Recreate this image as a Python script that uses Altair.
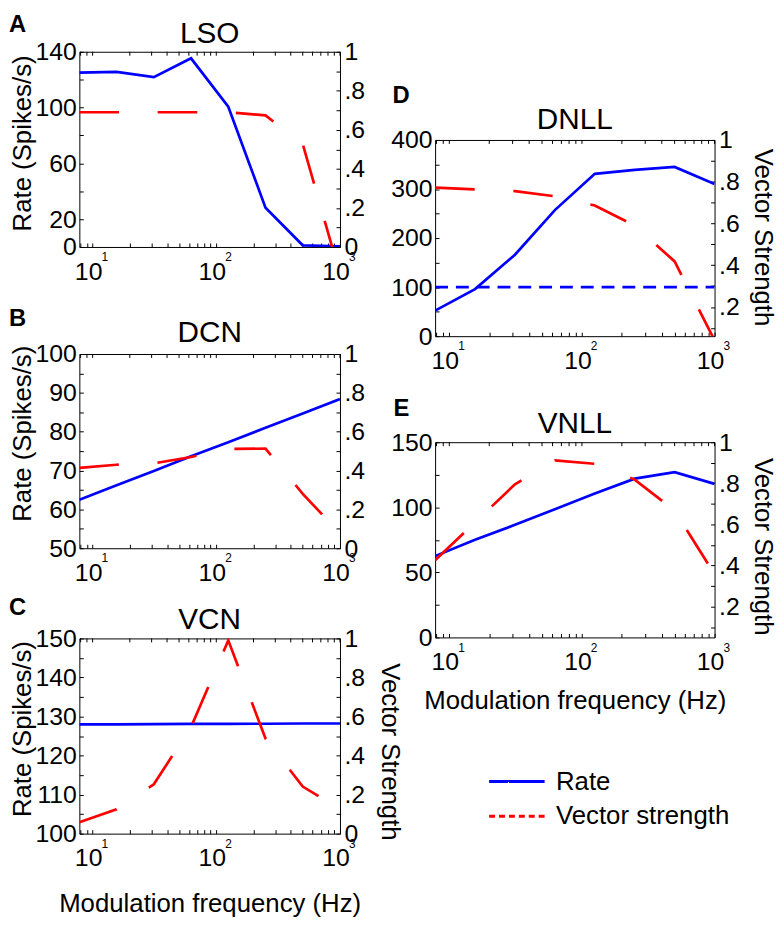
import json
import altair as alt
import pandas as pd

FONT = "Liberation Sans"
BLUE = "#0000ff"
RED = "#ff0000"

# ---------------- data ----------------
freq = [7.8125, 15.625, 31.25, 62.5, 125, 250, 500, 1000]
x_ticks = [8, 9, 10, 20, 30, 40, 50, 60, 70, 80, 90, 100, 200, 300, 400, 500, 600, 700, 800, 900, 1000]
x_decades = [10, 100, 1000]
x_sup = ["1", "2", "3"]
series_names = ["Rate", "Vector strength"]

lso_rate = [125.1, 125.6, 121.8, 135.3, 100.6, 28.2, 1.2, 0.5]
lso_vs = [0.69, 0.69, 0.69, 0.69, 0.69, 0.674, 0.527, -0.14]
lso_rate_ticks = [0, 20, 40, 60, 80, 100, 120, 140]
lso_rate_labels = [0, 20, 60, 100, 140]

dcn_rate = [62.5, 66.2, 69.9, 73.7, 77.3, 81.0, 84.7, 88.4]
dcn_vs = [0.414, 0.43, 0.437, 0.47, 0.511, 0.513, 0.28, 0.077]
dcn_rate_ticks = [50, 55, 60, 65, 70, 75, 80, 85, 90, 95, 100]
dcn_rate_labels = [50, 60, 70, 80, 90, 100]

vcn_rate = [128.0, 128.0, 128.05, 128.1, 128.1, 128.15, 128.2, 128.2]
vcn_vs = [0.058, 0.125, 0.253, 0.546, 0.99, 0.487, 0.241, 0.126]
vcn_rate_ticks = [100, 105, 110, 115, 120, 125, 130, 135, 140, 145, 150]
vcn_rate_labels = [100, 110, 120, 130, 140, 150]

dnll_rate = [52, 96, 166, 257, 331, 339, 345, 310]
dnll_vs = [0.772, 0.763, 0.755, 0.730, 0.686, 0.59, 0.418, 0.04]
dnll_ref_freq = [7.8125, 1000]
dnll_ref_rate = [100, 100]
dnll_rate_ticks = [0, 50, 100, 150, 200, 250, 300, 350, 400]
dnll_rate_labels = [0, 100, 200, 300, 400]

vnll_rate = [62.5, 75, 86.5, 98.5, 110.5, 122, 127, 118]
vnll_vs = [0.425, 0.61, 0.795, 0.911, 0.895, 0.818, 0.667, 0.357]
vnll_rate_ticks = [0, 25, 50, 75, 100, 125, 150]
vnll_rate_labels = [0, 50, 100, 150]

vs_ticks_full = [0, 0.1, 0.2, 0.3, 0.4, 0.5, 0.6, 0.7, 0.8, 0.9, 1.0]
vs_ticks_part = [0.1, 0.2, 0.3, 0.4, 0.5, 0.6, 0.7, 0.8, 0.9, 1.0]

TICK = 4
VSLAB = ("round(datum.value*10) % 2 == 0 ? (datum.value < 0.05 ? '0' : "
         "datum.value > 0.95 ? '1' : '.' + round(datum.value*10)) : ''")
XLAB = "indexof([10, 100, 1000], datum.value) >= 0 ? '10' : ''"


def panel(letter, name, rate, vs, rdom, rticks, rlabels, vdom, vticks, w, h,
          letter_xy, name_y, ltitle=None, lty=None, rtitle=None, rty=None, rtpad=12,
          xtitle=None, xtpad=20, ref=None, legend=False):
    xscale = alt.Scale(type="log", domain=[freq[0], freq[-1]], nice=False)
    xaxis = alt.Axis(values=x_ticks, labelExpr=XLAB, title=xtitle,
                     offset=-TICK, labelPadding=12.5, labelOffset=-4.5,
                     titlePadding=xtpad)
    X = alt.X("f:Q", scale=xscale, axis=xaxis)

    df = pd.DataFrame({"f": freq, "rate": rate, "vs": vs})
    lax = dict(orient="left", values=rticks, title=ltitle,
               labelExpr=f"indexof({json.dumps(rlabels)}, datum.value) >= 0 ? datum.label : ''",
               offset=-TICK, labelPadding=3, titlePadding=0)
    if lty is not None:
        lax["titleY"] = lty
    yl = alt.Y("rate:Q", scale=alt.Scale(domain=rdom, nice=False, zero=False),
               axis=alt.Axis(**lax))
    rax = dict(orient="right", values=vticks, title=rtitle, labelExpr=VSLAB,
               offset=-TICK, labelPadding=4, titlePadding=rtpad)
    if rty is not None:
        rax["titleY"] = rty
    yr = alt.Y("vs:Q", scale=alt.Scale(domain=vdom, nice=False, zero=False),
               axis=alt.Axis(**rax))

    rate_layers = [alt.Chart(df).mark_line(color=BLUE, strokeWidth=2.7, clip=True)
                   .encode(x=X, y=yl)]
    if ref is not None:
        rdf = pd.DataFrame({"f": ref[0], "rate": ref[1]})
        rate_layers.append(
            alt.Chart(rdf).mark_line(color=BLUE, strokeWidth=2.7, strokeDash=[13, 8], clip=True)
            .encode(x=X, y=yl))
    rate_group = alt.layer(*rate_layers)

    vs_line = alt.Chart(df).mark_line(color=RED, strokeWidth=2.7, strokeDash=[40, 39],
                                      clip=True).encode(x=X, y=yr)

    top_ticks = alt.Chart(pd.DataFrame({"f": x_ticks})).mark_rule(
        color="black", strokeWidth=1).encode(x=X, y=alt.value(0), y2=alt.value(TICK))

    sup = alt.Chart(pd.DataFrame({"f": x_decades, "s": x_sup})).mark_text(
        fontSize=12, align="left", baseline="alphabetic", dx=9, font=FONT,
        color="black").encode(x=X, y=alt.value(h + 14.3), text="s:N")

    letter_t = alt.Chart(pd.DataFrame({"t": [letter]})).mark_text(
        fontSize=24, fontWeight="bold", align="left", baseline="alphabetic",
        font=FONT, color="black").encode(
        text="t:N", x=alt.value(letter_xy[0]), y=alt.value(letter_xy[1]))

    name_t = alt.Chart(pd.DataFrame({"t": [name]})).mark_text(
        fontSize=30, align="center", baseline="alphabetic", font=FONT,
        color="black").encode(text="t:N", x=alt.value(w / 2), y=alt.value(name_y))

    layers = [rate_group, vs_line, top_ticks, sup, letter_t, name_t]

    if legend:
        ldf = pd.DataFrame({"series": series_names})
        leg = alt.Legend(title=None, orient="none", legendX=426, legendY=721,
                         symbolType="M-2,0L2,0", symbolSize=784, symbolStrokeWidth=3,
                         labelFontSize=26, labelFont=FONT, labelColor="black",
                         labelOffset=24, labelLimit=400, padding=0, rowPadding=6)
        layers.append(
            alt.Chart(ldf).mark_line(strokeWidth=3).encode(
                x=alt.value(0), y=alt.value(0),
                color=alt.Color("series:N", scale=alt.Scale(domain=series_names, range=[BLUE, RED]),
                                legend=leg),
                strokeDash=alt.StrokeDash("series:N",
                                          scale=alt.Scale(domain=series_names,
                                                          range=[[1, 0], [6, 4]]),
                                          legend=leg)))

    return alt.layer(*layers).resolve_scale(y="independent").properties(width=w, height=h)


def spacer(h):
    return alt.Chart(pd.DataFrame({"v": [0]})).mark_point(opacity=0).encode(
        x=alt.value(0), y=alt.value(0)).properties(
        width=1, height=h, view=alt.ViewBackground(stroke="transparent"))


pA = panel("A", "LSO", lso_rate, lso_vs, [0, 140], lso_rate_ticks, lso_rate_labels,
           [0, 1], vs_ticks_full, 263, 197, (-71, -20), -8.4,
           ltitle="Rate (Spikes/s)", lty=92)
pB = panel("B", "DCN", dcn_rate, dcn_vs, [50, 100], dcn_rate_ticks, dcn_rate_labels,
           [0, 1], vs_ticks_full, 263, 196, (-71, -28.4), -11.7,
           ltitle="Rate (Spikes/s)", lty=80)
pC = panel("C", "VCN", vcn_rate, vcn_vs, [100, 150], vcn_rate_ticks, vcn_rate_labels,
           [0, 1], vs_ticks_full, 263, 197, (-71, -24), -9,
           ltitle="Rate (Spikes/s)", lty=91, rtitle="Vector Strength", rty=114,
           xtitle="Modulation frequency (Hz)", xtpad=20)
pD = panel("D", "DNLL", dnll_rate, dnll_vs, [0, 400], dnll_rate_ticks, dnll_rate_labels,
           [0.06, 1], vs_ticks_part, 282, 198, (-43, -37.7), -11,
           rtitle="Vector Strength", rty=98, rtpad=10, ref=(dnll_ref_freq, dnll_ref_rate))
pE = panel("E", "VNLL", vnll_rate, vnll_vs, [0, 150], vnll_rate_ticks, vnll_rate_labels,
           [0.05, 1], vs_ticks_part, 282, 197, (-42, -26.7), -9.3,
           rtitle="Vector Strength", rty=105, rtpad=10,
           xtitle="Modulation frequency (Hz)", xtpad=13, legend=True)

left = alt.vconcat(pA, spacer(88), pB, spacer(71), pC, spacing=10, bounds="flush")
right = alt.vconcat(spacer(79), pD, spacer(87), pE, spacing=10, bounds="flush")

chart = alt.hconcat(left, right, spacing=359, bounds="flush").properties(
    padding={"left": 0, "top": 0, "right": 0, "bottom": 0}
).configure(font=FONT).configure_view(
    stroke="black", strokeWidth=1
).configure_axis(
    labelFont=FONT, labelFontSize=25, labelColor="black",
    titleFont=FONT, titleFontSize=26, titleFontWeight="normal", titleColor="black",
    tickColor="black", tickWidth=1, tickSize=TICK, domain=False, grid=False,
    labelFlush=False, labelOverlap=False
)

chart.save("out.html", embed_options={"renderer": "svg", "actions": False})
